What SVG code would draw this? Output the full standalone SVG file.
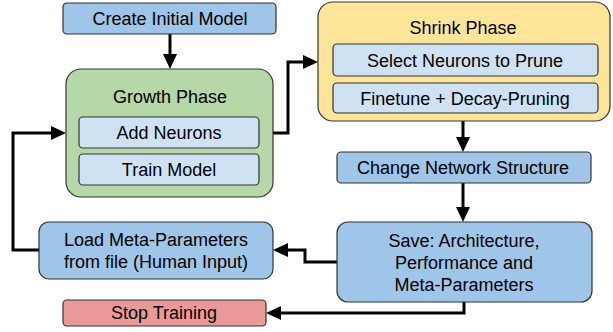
<svg xmlns="http://www.w3.org/2000/svg" width="613" height="332" viewBox="0 0 613 332">
<style>
text{font-family:"Liberation Sans",Arial,sans-serif;font-size:18px;fill:#000;text-anchor:middle}
.box{stroke:#333;stroke-width:1.2}
.blue{fill:#9fc5e8}
.light{fill:#cfe2f3}
.green{fill:#b6d7a8}
.yellow{fill:#ffe599}
.red{fill:#ea9999}
.conn{fill:none;stroke:#000;stroke-width:3;marker-end:url(#arr)}
</style>
<defs>
<marker id="arr" markerUnits="userSpaceOnUse" markerWidth="15" markerHeight="14" refX="11" refY="7" orient="auto">
<path d="M0,0 L15,7 L0,14 z" fill="#000"/>
</marker>
</defs>
<g id="connectors">
<path class="conn" d="M170,34 V65"/>
<path class="conn" d="M273,133 H288 V62 H314"/>
<path class="conn" d="M463,121 V148"/>
<path class="conn" d="M463,183 V218"/>
<path class="conn" d="M337,262 H305 V250 H277"/>
<path class="conn" d="M39,250 H13 V133 H62"/>
<path class="conn" d="M464,302 V313 H270"/>
</g>
<g id="create">
<rect class="box blue" x="63" y="3" width="213" height="31" rx="4"/>
<text x="170" y="25">Create Initial Model</text>
</g>
<g id="growth">
<rect class="box green" x="66" y="69" width="207" height="128" rx="15"/>
<text x="170" y="103">Growth Phase</text>
</g>
<g id="add">
<rect class="box light" x="79" y="117" width="180" height="31" rx="4"/>
<text x="169" y="139">Add Neurons</text>
</g>
<g id="train">
<rect class="box light" x="79" y="154" width="180" height="31" rx="4"/>
<text x="169" y="176">Train Model</text>
</g>
<g id="shrink">
<rect class="box yellow" x="318" y="2" width="292" height="119" rx="15"/>
<text x="463" y="34">Shrink Phase</text>
</g>
<g id="select">
<rect class="box light" x="333" y="44" width="265" height="32" rx="4"/>
<text x="465" y="67">Select Neurons to Prune</text>
</g>
<g id="finetune">
<rect class="box light" x="333" y="83" width="265" height="30" rx="4"/>
<text x="465" y="105">Finetune + Decay-Pruning</text>
</g>
<g id="change">
<rect class="box blue" x="337" y="152" width="254" height="31" rx="4"/>
<text x="463" y="174">Change Network Structure</text>
</g>
<g id="save">
<rect class="box blue" x="337" y="222" width="255" height="80" rx="11"/>
<text x="464" y="247">Save: Architecture,</text>
<text x="464" y="269">Performance and</text>
<text x="464" y="291">Meta-Parameters</text>
</g>
<g id="load">
<rect class="box blue" x="39" y="222" width="234" height="57" rx="10"/>
<text x="156" y="246">Load Meta-Parameters</text>
<text x="156" y="268">from file (Human Input)</text>
</g>
<g id="stop">
<rect class="box red" x="63" y="300" width="203" height="26" rx="4"/>
<text x="164" y="319">Stop Training</text>
</g>
</svg>
